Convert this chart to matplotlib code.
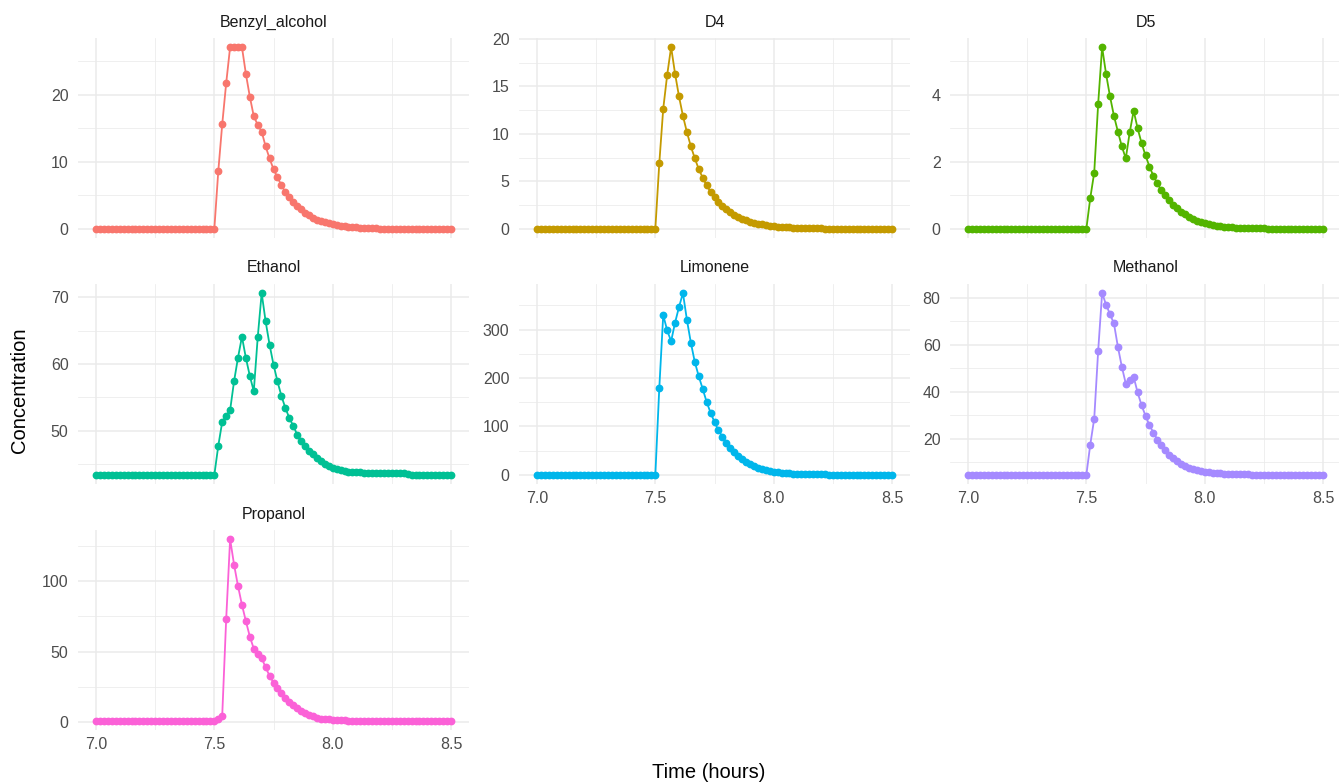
import numpy as np
import matplotlib
matplotlib.use("Agg")
import matplotlib.pyplot as plt
from matplotlib.ticker import MultipleLocator

# ==========================================
# Data: one reading per minute, 7.0 h -> 8.5 h
# ==========================================
time_h = 7.0 + np.arange(91) / 60.0

benzyl_alcohol = [0.0] * 31 + [
    8.6, 15.6, 21.7, 27.1, 27.1, 27.1, 27.1, 23.1, 19.7, 16.8,
    15.5, 14.5, 12.3, 10.5, 8.9, 7.7, 6.5, 5.5, 4.7, 4.0,
    3.4, 2.9, 2.4, 2.0, 1.7, 1.4, 1.2, 1.0, 0.85, 0.7,
    0.58, 0.48, 0.4, 0.33, 0.27, 0.22, 0.18, 0.15, 0.12, 0.1,
    0.08, 0.06, 0.05, 0.04, 0.03, 0.03, 0.02, 0.02, 0.02, 0.01,
    0.01, 0.01, 0.01, 0.01, 0.0, 0.0, 0.0, 0.0, 0.0, 0.0]

d4 = [0.0] * 31 + [
    6.9, 12.65, 16.2, 19.15, 16.35, 13.95, 11.9, 10.2, 8.7, 7.45,
    6.3, 5.4, 4.6, 3.9, 3.35, 2.85, 2.4, 2.05, 1.75, 1.5,
    1.25, 1.05, 0.9, 0.77, 0.65, 0.55, 0.47, 0.4, 0.34, 0.29,
    0.25, 0.21, 0.18, 0.15, 0.13, 0.11, 0.09, 0.08, 0.07, 0.06,
    0.05, 0.05, 0.04, 0.04, 0.03, 0.03, 0.03, 0.02, 0.02, 0.02,
    0.02, 0.02, 0.01, 0.01, 0.01, 0.01, 0.01, 0.01, 0.01, 0.01]

d5 = [0.0] * 31 + [
    0.92, 1.68, 3.73, 5.42, 4.62, 3.95, 3.37, 2.9, 2.46, 2.1,
    2.88, 3.52, 3.0, 2.56, 2.19, 1.86, 1.58, 1.36, 1.15, 1.0,
    0.85, 0.72, 0.61, 0.51, 0.43, 0.36, 0.3, 0.25, 0.21, 0.17,
    0.14, 0.12, 0.1, 0.08, 0.07, 0.06, 0.05, 0.04, 0.03, 0.03,
    0.03, 0.02, 0.02, 0.02, 0.02, 0.01, 0.01, 0.01, 0.01, 0.01,
    0.01, 0.01, 0.01, 0.0, 0.0, 0.0, 0.0, 0.0, 0.0, 0.0]

ethanol = [43.33] * 31 + [
    47.7, 51.3, 52.15, 53.05, 57.4, 60.95, 64.1, 60.9, 58.2, 55.9,
    64.0, 70.65, 66.4, 62.9, 59.9, 57.4, 55.2, 53.4, 51.9, 50.7,
    49.4, 48.4, 47.7, 46.9, 46.4, 45.9, 45.4, 45.0, 44.7, 44.4,
    44.2, 44.0, 43.9, 43.8, 43.75, 43.7, 43.7, 43.66, 43.65, 43.65,
    43.64, 43.65, 43.66, 43.64, 43.63, 43.65, 43.62, 43.6, 43.4, 43.35,
    43.33, 43.33, 43.33, 43.33, 43.33, 43.33, 43.33, 43.33, 43.33, 43.33]

limonene = [0.0] * 31 + [
    179, 330, 298.6, 276, 314.4, 346.7, 375.5, 320.6, 273.2, 233.4,
    203.9, 177.8, 151, 128.4, 109.2, 92, 79, 66.6, 56.3, 47.4,
    39.1, 33, 27.5, 22.7, 18.5, 15.1, 12.4, 10.3, 8.5, 7.0,
    5.8, 4.8, 4.0, 3.3, 2.7, 2.3, 2.0, 1.7, 1.5, 1.3,
    1.1, 1.0, 0.9, 0.8, 0.7, 0.7, 0.6, 0.6, 0.5, 0.5,
    0.5, 0.4, 0.4, 0.4, 0.3, 0.3, 0.3, 0.3, 0.3, 0.3]

methanol = [4.7] * 31 + [
    17.6, 28.6, 57.4, 81.9, 77.0, 72.9, 69.0, 59.1, 50.6, 43.5,
    45.2, 46.3, 39.7, 34.3, 29.8, 25.8, 22.7, 19.7, 17.3, 15.2,
    13.3, 11.8, 10.5, 9.4, 8.5, 7.8, 7.2, 6.7, 6.3, 6.0,
    5.75, 5.55, 5.4, 5.3, 5.2, 5.1, 5.05, 5.0, 4.95, 4.9,
    4.88, 4.86, 4.84, 4.82, 4.8, 4.79, 4.78, 4.77, 4.76, 4.75,
    4.74, 4.73, 4.72, 4.72, 4.71, 4.71, 4.7, 4.7, 4.7, 4.7]

propanol = [0.8] * 31 + [
    2.5, 4.6, 72.7, 129.7, 111.6, 96.4, 83.1, 71.5, 60.6, 52.0,
    48.5, 45.4, 38.7, 32.8, 28.0, 24.0, 20.7, 17.3, 14.5, 12.1,
    10.0, 8.1, 6.7, 5.2, 4.0, 3.1, 2.5, 2.1, 1.8, 1.6,
    1.4, 1.25, 1.1, 1.0, 0.95, 0.9, 0.88, 0.86, 0.85, 0.84,
    0.83, 0.82, 0.82, 0.81, 0.81, 0.8, 0.8, 0.8, 0.8, 0.8,
    0.8, 0.8, 0.8, 0.8, 0.8, 0.8, 0.8, 0.8, 0.8, 0.8]

compounds = ["Benzyl_alcohol", "D4", "D5", "Ethanol", "Limonene", "Methanol", "Propanol"]
series = [benzyl_alcohol, d4, d5, ethanol, limonene, methanol, propanol]
y_steps = [10, 5, 2, 10, 100, 20, 50]
x_ticks = [7.0, 7.5, 8.0, 8.5]

# ggplot2 default hue palette for 7 groups
colors = ["#F8766D", "#C49A00", "#53B400", "#00C094", "#00B6EB", "#A58AFF", "#FB61D7"]

# ==========================================
# Figure / panel layout (facet_wrap, ncol=3, free y)
# ==========================================
plt.rcParams['font.family'] = ['Liberation Sans', 'DejaVu Sans']
W, H = 1339, 784
fig = plt.figure(figsize=(W / 100, H / 100), dpi=100)

col_left = [78.25, 519.25, 950.25]
row_top = [38, 284, 530]
panel_w, panel_h = 390.5, 200

grid_col = "#EBEBEB"
tick_col = "#4D4D4D"

for k, (name, vals) in enumerate(zip(compounds, series)):
    r, c = divmod(k, 3)
    left = col_left[c] / W
    bottom = 1 - (row_top[r] + panel_h) / H
    ax = fig.add_axes([left, bottom, panel_w / W, panel_h / H])

    vals = np.asarray(vals, dtype=float)
    ax.plot(time_h, vals, color=colors[k], lw=1.3, marker='o', ms=4.6,
            mec=colors[k], mfc=colors[k], zorder=3, clip_on=False)

    # 5% expansion like ggplot
    ax.set_xlim(7.0 - 0.075, 8.5 + 0.075)
    lo, hi = vals.min(), vals.max()
    pad = 0.05 * (hi - lo)
    ax.set_ylim(lo - pad, hi + pad)

    ax.xaxis.set_major_locator(plt.FixedLocator(x_ticks))
    ax.xaxis.set_minor_locator(MultipleLocator(0.25))
    ax.yaxis.set_major_locator(MultipleLocator(y_steps[k]))
    ax.yaxis.set_minor_locator(MultipleLocator(y_steps[k] / 2))

    ax.grid(which='major', color=grid_col, lw=1.1, zorder=0)
    ax.grid(which='minor', color=grid_col, lw=0.55, zorder=0)
    ax.set_axisbelow(True)
    for sp in ax.spines.values():
        sp.set_visible(False)

    ax.tick_params(which='both', length=0, labelsize=11.5, labelcolor=tick_col)
    ax.tick_params(axis='y', pad=7)
    ax.tick_params(axis='x', pad=5)
    ax.xaxis.set_major_formatter(plt.FuncFormatter(lambda v, p: f"{v:.1f}"))

    # x labels only on the lowest panel of each column
    bottom_panel = (r == 2) or (r == 1 and c > 0)
    if not bottom_panel:
        ax.tick_params(axis='x', labelbottom=False)

    ax.text(0.5, 1 + 16 / panel_h, name, transform=ax.transAxes, ha='center',
            va='center', fontsize=11.5, color="#1A1A1A")

fig.text(20 / W, 1 - 390 / H, "Concentration", rotation=90, ha='center',
         va='center', fontsize=14.5, color='black')
fig.text(709 / W, 1 - 772 / H, "Time (hours)", ha='center', va='center',
         fontsize=14.5, color='black')

fig.savefig("out.png", dpi=100, facecolor='white')
